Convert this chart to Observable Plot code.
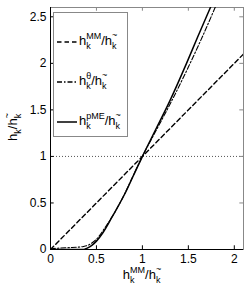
<!DOCTYPE html>
<html><head><meta charset="utf-8">
<script src="https://cdn.jsdelivr.net/npm/d3@7"></script>
<script src="https://cdn.jsdelivr.net/npm/@observablehq/plot@0.6"></script>
<style>body{margin:0;background:#fff} svg{display:block}</style>
</head><body><div id="chart"></div>
<script>
// ---- data ----
const xTicks = [0, 0.5, 1, 1.5, 2];
const yTicks = [0, 0.5, 1, 1.5, 2, 2.5];
const mmX = [0, 2.1];
const mmY = [0, 2.1];
const thetaX = [0, 0.03, 0.1, 0.2, 0.3, 0.36, 0.42, 0.5, 0.6, 0.7, 0.82, 0.9, 1.0, 1.15, 1.3, 1.5, 1.65, 1.8];
const thetaY = [0, 0.01, 0.015, 0.02, 0.025, 0.033, 0.052, 0.11, 0.245, 0.4, 0.625, 0.795, 1.0, 1.28, 1.56, 1.96, 2.28, 2.62];
const pmeX = [0, 0.2, 0.36, 0.4, 0.45, 0.5, 0.57, 0.67, 0.82, 0.9, 1.0, 1.15, 1.3, 1.48, 1.6, 1.74, 1.8];
const pmeY = [0, 0, 0, 0.015, 0.045, 0.09, 0.18, 0.35, 0.62, 0.79, 1.0, 1.3, 1.6, 2.0, 2.28, 2.6, 2.74];
const refLevel = [1];
const legendSup = ["MM", "\u03b8", "pME"];
const legendDash = ["4.5,3", "5,2,1.5,2", null];

const FONT = "Liberation Sans, Arial, Helvetica, sans-serif";
const xDomain = [0, 2.1], yDomain = [0, 2.6];

const mm = mmX.map((x, i) => ({x, y: mmY[i]}));
const th = thetaX.map((x, i) => ({x, y: thetaY[i]}));
const pm = pmeX.map((x, i) => ({x, y: pmeY[i]}));

const chart = Plot.plot({
  width: 249, height: 295,
  marginLeft: 50, marginRight: 6, marginTop: 7, marginBottom: 46,
  style: {fontFamily: FONT, fontSize: "12px", background: "#fff", color: "#000"},
  x: {domain: xDomain, axis: null},
  y: {domain: yDomain, axis: null},
  marks: [
    Plot.frame({stroke: "#888", strokeWidth: 1}),
    Plot.ruleY(refLevel, {x1: xDomain[0], x2: xDomain[1], stroke: "#555", strokeDasharray: "1,2", strokeWidth: 1}),
    Plot.line(mm, {x: "x", y: "y", stroke: "#000", strokeWidth: 1.4, strokeDasharray: "4.5,3", clip: true}),
    Plot.line(th, {x: "x", y: "y", stroke: "#000", strokeWidth: 1.1, strokeDasharray: "5,2,1.5,2", curve: "monotone-x", clip: true}),
    Plot.line(pm, {x: "x", y: "y", stroke: "#000", strokeWidth: 1.5, curve: "monotone-x", clip: true}),
    Plot.ruleX(xTicks, {y1: 0, y2: 0.04, stroke: "#000", strokeWidth: 1}),
    Plot.ruleX(xTicks, {y1: 2.6, y2: 2.56, stroke: "#888", strokeWidth: 1}),
    Plot.ruleY(yTicks, {x1: 0, x2: 0.04, stroke: "#000", strokeWidth: 1}),
    Plot.ruleY(yTicks, {x1: 2.1, x2: 2.06, stroke: "#888", strokeWidth: 1}),
    Plot.ruleX([0], {stroke: "#000", strokeWidth: 1}),
    Plot.ruleY([0], {stroke: "#000", strokeWidth: 1}),
    Plot.axisX({ticks: xTicks, tickSize: 0, tickPadding: 5, label: null, tickFormat: d => String(d)}),
    Plot.axisY({ticks: yTicks, tickSize: 0, tickPadding: 4, label: null, tickFormat: d => String(d)})
  ]
});
document.getElementById("chart").appendChild(chart);

// ---- rich text (sub/superscripts) ----
const BIG = 13, SMALL = 9, SUB = 3.5, SUPS = -6;
function rich(parent, segs, anchor) {
  const t = parent.append("text").attr("font-family", FONT).attr("fill", "#000")
    .attr("text-anchor", anchor);
  let shift = 0;
  for (const s of segs) {
    const target = s.k === "sub" ? SUB : s.k === "sup" ? (SUPS + (s.extra || 0)) : 0;
    const ts = t.append("tspan").text(s.t)
      .attr("font-size", s.k === "n" ? BIG : SMALL)
      .attr("dy", target - shift);
    if (s.dx) ts.attr("dx", s.dx);
    shift = target;
  }
  return t;
}
function frac(sup) {
  return [
    {t: "h", k: "n"}, {t: "k", k: "sub"}, ...(sup ? [{t: sup, k: "sup", dx: -4.5}] : []),
    {t: "/h", k: "n"}, {t: "k", k: "sub"}, {t: "~", k: "sup", dx: -4.5, extra: -1.5}
  ];
}

const svg = d3.select(chart);
// axis titles
rich(svg, frac("MM"), "middle").attr("x", 142).attr("y", 279);
rich(svg, frac(null), "middle").attr("transform", "translate(17,127) rotate(-90)");

// legend
const lg = svg.append("g");
lg.append("rect").attr("x", 53.5).attr("y", 12.5).attr("width", 74).attr("height", 124)
  .attr("fill", "#fff").attr("stroke", "#888").attr("stroke-width", 1);
legendSup.forEach((sup, i) => {
  const ly = 42 + i * 40;
  const ln = lg.append("line").attr("x1", 57).attr("x2", 77).attr("y1", ly).attr("y2", ly)
    .attr("stroke", "#000").attr("stroke-width", i === 2 ? 1.5 : 1.3);
  if (legendDash[i]) ln.attr("stroke-dasharray", legendDash[i]);
  rich(lg, frac(sup), "start").attr("x", 79).attr("y", ly + 3);
});
</script></body></html>
